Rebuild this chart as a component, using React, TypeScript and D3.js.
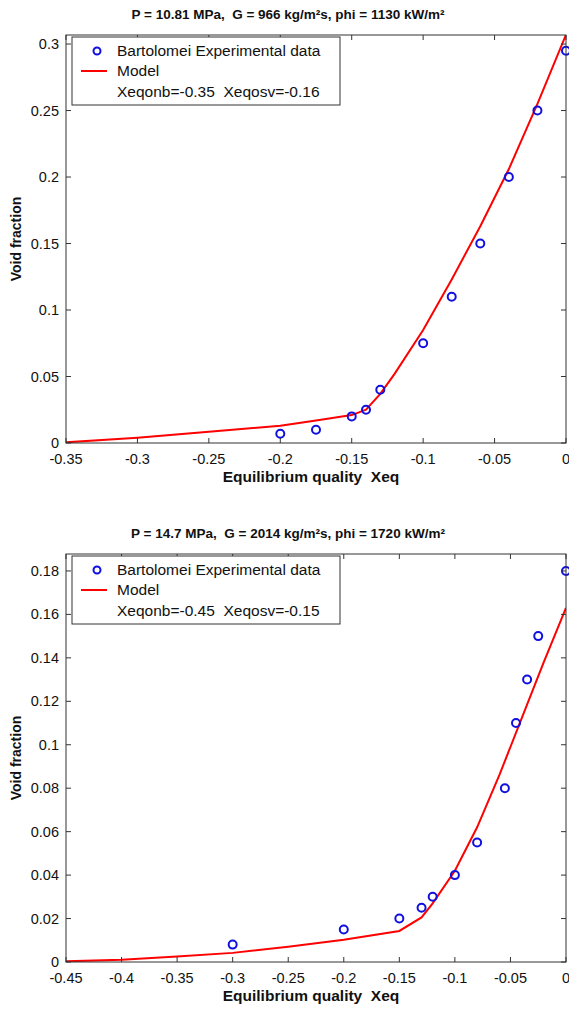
import React from "react";
import * as d3 from "d3";

// ---- Data: top panel ----
const topTitle = "P = 10.81 MPa,  G = 966 kg/m²s, phi = 1130 kW/m²";
const topLegendNote = "Xeqonb=-0.35  Xeqosv=-0.16";
const topExpX = [-0.2, -0.175, -0.15, -0.14, -0.13, -0.1, -0.08, -0.06, -0.04, -0.02, 0];
const topExpY = [0.007, 0.01, 0.02, 0.025, 0.04, 0.075, 0.11, 0.15, 0.2, 0.25, 0.295];
const topModelX = [-0.35, -0.3, -0.25, -0.2, -0.175, -0.15, -0.14, -0.13, -0.12, -0.1, -0.08, -0.06, -0.04, -0.02, 0];
const topModelY = [0.0005, 0.004, 0.0085, 0.013, 0.017, 0.021, 0.025, 0.037, 0.052, 0.085, 0.123, 0.163, 0.206, 0.255, 0.307];
const topXTicks = [-0.35, -0.3, -0.25, -0.2, -0.15, -0.1, -0.05, 0];
const topYTicks = [0, 0.05, 0.1, 0.15, 0.2, 0.25, 0.3];
const topXDomain = [-0.35, 0];
const topYDomain = [0, 0.3068];

// ---- Data: bottom panel ----
const botTitle = "P = 14.7 MPa,  G = 2014 kg/m²s, phi = 1720 kW/m²";
const botLegendNote = "Xeqonb=-0.45  Xeqosv=-0.15";
const botExpX = [-0.3, -0.2, -0.15, -0.13, -0.12, -0.1, -0.08, -0.055, -0.045, -0.035, -0.025, 0];
const botExpY = [0.008, 0.015, 0.02, 0.025, 0.03, 0.04, 0.055, 0.08, 0.11, 0.13, 0.15, 0.18];
const botModelX = [-0.45, -0.4, -0.35, -0.3, -0.25, -0.2, -0.15, -0.13, -0.12, -0.1, -0.08, -0.06, -0.04, -0.02, 0];
const botModelY = [0.0003, 0.001, 0.0025, 0.0042, 0.007, 0.0102, 0.0143, 0.0205, 0.027, 0.042, 0.062, 0.086, 0.112, 0.138, 0.163];
const botXTicks = [-0.45, -0.4, -0.35, -0.3, -0.25, -0.2, -0.15, -0.1, -0.05, 0];
const botYTicks = [0, 0.02, 0.04, 0.06, 0.08, 0.1, 0.12, 0.14, 0.16, 0.18];
const botXDomain = [-0.45, 0];
const botYDomain = [0, 0.1878];

const legendExp = "Bartolomei Experimental data";
const legendModel = "Model";
const xLabel = "Equilibrium quality  Xeq";
const yLabel = "Void fraction";

const FONT = "'Liberation Sans', Arial, Helvetica, sans-serif";
const AXIS = "#333";
const PRE: React.CSSProperties = { whiteSpace: "pre" };

function fmt(v: number) {
  if (Math.abs(v) < 1e-9) return "0";
  return String(+v.toFixed(3));
}

function Panel(props: {
  top: number; title: string; note: string;
  expX: number[]; expY: number[]; modX: number[]; modY: number[];
  xTicks: number[]; yTicks: number[]; xDom: number[]; yDom: number[];
}) {
  const L = 66, R = 566, T = props.top, B = props.top + 408;
  const x = d3.scaleLinear().domain(props.xDom).range([L, R]);
  const y = d3.scaleLinear().domain(props.yDom).range([B, T]);
  const line = d3.line<number>().x((_, i) => x(props.modX[i])).y((d) => y(d));
  const tl = 5;
  return (
    <g fontFamily={FONT}>
      <text x={288} y={T - 16} textAnchor="middle" fontSize={13.5} fontWeight="bold" fill="#111" style={PRE}>{props.title}</text>
      <rect x={L} y={T} width={R - L} height={B - T} fill="white" stroke="none" />
      <defs>
        <clipPath id={`clip${props.top}`}>
          <rect x={L} y={T} width={R - L} height={B - T} />
        </clipPath>
      </defs>
      <g clipPath={`url(#clip${props.top})`}>
        <path d={line(props.modY) || ""} fill="none" stroke="#f00" strokeWidth={2} />
      </g>
      {props.expX.map((v, i) => (
        <circle key={i} cx={x(v)} cy={y(props.expY[i])} r={4} fill="none" stroke="#1010e0" strokeWidth={2} />
      ))}
      {props.xTicks.map((t, i) => (
        <g key={"x" + i}>
          <line x1={x(t)} x2={x(t)} y1={B} y2={B - tl} stroke={AXIS} />
          <line x1={x(t)} x2={x(t)} y1={T} y2={T + tl} stroke={AXIS} />
          <text x={x(t)} y={B + 21} textAnchor="middle" fontSize={14.5} fill="#111">{fmt(t)}</text>
        </g>
      ))}
      {props.yTicks.map((t, i) => (
        <g key={"y" + i}>
          <line x1={L} x2={L + tl} y1={y(t)} y2={y(t)} stroke={AXIS} />
          <line x1={R} x2={R - tl} y1={y(t)} y2={y(t)} stroke={AXIS} />
          <text x={L - 7} y={y(t) + 5} textAnchor="end" fontSize={14.5} fill="#111">{fmt(t)}</text>
        </g>
      ))}
      <rect x={L} y={T} width={R - L} height={B - T} fill="none" stroke={AXIS} strokeWidth={1} />
      <text x={311} y={B + 39} textAnchor="middle" fontSize={15.5} fontWeight="bold" fill="#111" style={PRE}>{xLabel}</text>
      <text transform={`translate(21,${(T + B) / 2}) rotate(-90)`} textAnchor="middle" fontSize={14} fontWeight="bold" fill="#111">{yLabel}</text>
      {/* legend */}
      <rect x={72} y={T + 2} width={268} height={68} fill="white" stroke={AXIS} strokeWidth={1} />
      <circle cx={97} cy={T + 16} r={3.5} fill="none" stroke="#1010e0" strokeWidth={2} />
      <text x={117} y={T + 21} fontSize={15.5} fill="#111">{legendExp}</text>
      <line x1={81} x2={107} y1={T + 36} y2={T + 36} stroke="#f00" strokeWidth={2} />
      <text x={117} y={T + 41} fontSize={15.5} fill="#111">{legendModel}</text>
      <text x={117} y={T + 62} fontSize={15.5} fill="#111" style={PRE}>{props.note}</text>
    </g>
  );
}

export default function App() {
  return (
    <svg width={569} height={1010} style={{ position: "absolute", left: 0, top: 0, background: "white" }}>
      <rect width={569} height={1010} fill="white" />
      <Panel top={35} title={topTitle} note={topLegendNote} expX={topExpX} expY={topExpY}
        modX={topModelX} modY={topModelY} xTicks={topXTicks} yTicks={topYTicks} xDom={topXDomain} yDom={topYDomain} />
      <Panel top={554} title={botTitle} note={botLegendNote} expX={botExpX} expY={botExpY}
        modX={botModelX} modY={botModelY} xTicks={botXTicks} yTicks={botYTicks} xDom={botXDomain} yDom={botYDomain} />
    </svg>
  );
}
